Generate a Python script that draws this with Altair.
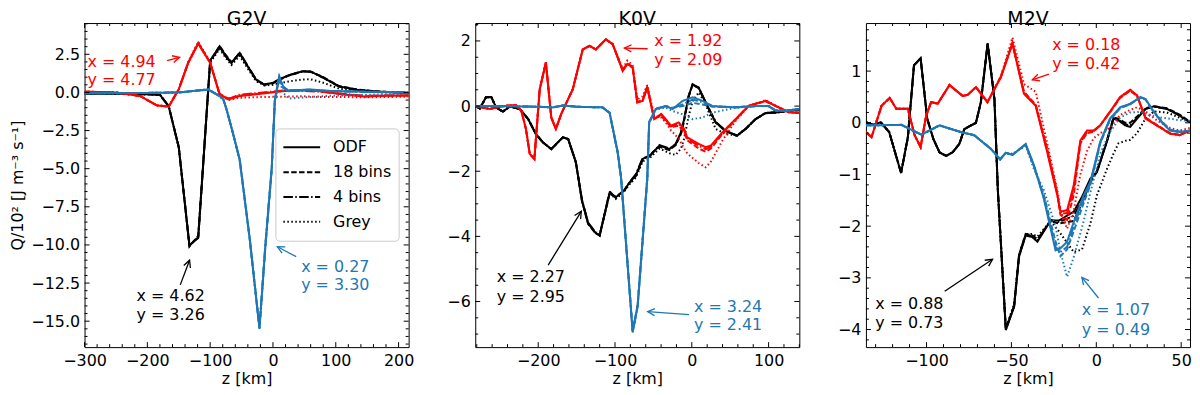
import math
import altair as alt
import pandas as pd
import numpy as np

FONT = "DejaVu Sans"
METHODS = ["ODF", "18 bins", "4 bins", "Grey"]
SERIES = ["black", "red", "blue"]
COLORS = ["#000000", "#ff0000", "#1f77b4"]
DASHES = [[1, 0], [5.5, 2.4], [9.6, 2.4, 1.5, 2.4], [1.5, 2.5]]
W = 326
H = 326

# ---------------- G2V ----------------
G2V_BLACK_Z = [-300, -250, -200, -180, -166, -150, -133, -119, -100, -85, -75, -66, -53, -40, -27, -14, 0, 10, 25, 47, 60, 79, 105, 137, 170, 205, 216]
G2V_BLACK_ODF = [-0.08, -0.1, -0.12, -0.15, -0.91, -3.6, -10.05, -9.5, 2.1, 3.02, 2.4, 1.94, 2.59, 1.7, 0.85, 0.52, 0.63, 0.85, 1.13, 1.39, 1.37, 1.0, 0.4, 0.15, 0.05, 0.0, -0.05]
G2V_BLACK_B18 = [-0.08, -0.1, -0.12, -0.16, -0.93, -3.55, -10.1, -9.4, 2.0, 3.05, 2.45, 1.98, 2.55, 1.68, 0.82, 0.5, 0.6, 0.83, 1.1, 1.37, 1.36, 1.02, 0.42, 0.17, 0.06, 0.0, -0.05]
G2V_BLACK_B4 = [-0.08, -0.1, -0.12, -0.15, -0.9, -3.6, -10.0, -9.55, 2.05, 2.95, 2.35, 1.9, 2.62, 1.72, 0.86, 0.5, 0.62, 0.86, 1.12, 1.38, 1.36, 0.98, 0.38, 0.14, 0.05, 0.0, -0.05]
G2V_BLACK_GREY = [-0.08, -0.1, -0.12, -0.15, -0.9, -3.58, -10.0, -9.5, 1.95, 2.85, 2.25, 1.8, 2.4, 1.55, 0.75, 0.45, 0.5, 0.6, 0.72, 0.85, 0.86, 0.65, 0.25, 0.1, 0.02, -0.02, -0.05]

G2V_RED_Z = [-300, -250, -211, -185, -166, -150, -135, -119, -100, -85, -71, -53, -16, 15, 47, 73, 110, 147, 180, 216]
G2V_RED_ODF = [0.05, 0.0, -0.24, -0.85, -0.93, 0.2, 1.94, 3.2, 1.94, -0.13, -0.46, -0.24, -0.07, 0.08, 0.15, 0.09, -0.13, -0.28, -0.2, -0.2]
G2V_RED_B18 = [0.05, 0.0, -0.24, -0.85, -0.93, 0.2, 1.95, 3.25, 1.97, -0.1, -0.4, -0.2, -0.05, 0.1, 0.15, 0.1, -0.1, -0.25, -0.22, -0.2]
G2V_RED_B4 = [0.05, 0.0, -0.24, -0.86, -0.92, 0.21, 1.93, 3.22, 1.96, -0.1, -0.42, -0.15, 0.0, 0.12, 0.1, 0.05, -0.08, -0.22, -0.2, -0.2]
G2V_RED_GREY = [0.05, 0.0, -0.24, -0.85, -0.93, 0.22, 2.0, 3.32, 2.0, -0.15, -0.5, -0.35, -0.3, -0.28, -0.25, -0.3, -0.3, -0.32, -0.3, -0.28]

G2V_BLUE_Z = [-300, -250, -200, -150, -103, -85, -79, -74, -64, -53, -37, -21.5, -12, -2, 3, 10, 16, 25, 58, 90, 150, 216]
G2V_BLUE_ODF = [-0.05, -0.05, -0.03, 0.0, 0.2, -0.24, -0.46, -1.1, -2.63, -4.4, -9.6, -15.5, -10.0, -5.0, -0.5, 1.07, 0.4, 0.1, 0.2, 0.1, 0.05, 0.0]
G2V_BLUE_B18 = [-0.05, -0.05, -0.03, 0.0, 0.18, -0.22, -0.45, -1.12, -2.6, -4.45, -9.65, -15.45, -10.1, -5.1, -0.45, 1.0, 0.35, 0.12, 0.18, 0.1, 0.04, 0.0]
G2V_BLUE_B4 = [-0.05, -0.05, -0.03, 0.0, 0.19, -0.25, -0.47, -1.08, -2.65, -4.38, -9.55, -15.4, -9.9, -4.9, -0.55, 0.95, 0.3, 0.08, 0.15, 0.08, 0.03, -0.02]
G2V_BLUE_GREY = [-0.05, -0.05, -0.03, 0.0, 0.2, -0.24, -0.46, -1.1, -2.63, -4.4, -9.6, -15.45, -10.0, -5.0, -0.6, 0.9, 0.0, -0.4, -0.3, -0.22, -0.15, -0.08]

G2V_TEXT = ["x = 4.94", "y = 4.77", "x = 4.62", "y = 3.26", "x = 0.27", "y = 3.30"]
G2V_TEXT_Z = [-295.3, -295.3, -217.2, -217.2, 44.9, 44.9]
G2V_TEXT_Q = [2.0, 0.83, -13.38, -14.57, -11.43, -12.62]
G2V_TEXT_S = ["red", "red", "black", "black", "blue", "blue"]
G2V_ARROW_S = ["red", "black", "blue"]
G2V_ARROW_TAIL_Z = [-168.7, -147.6, 37.0]
G2V_ARROW_TAIL_Q = [2.08, -12.62, -10.77]
G2V_ARROW_HEAD_Z = [-148.6, -132.8, 7.0]
G2V_ARROW_HEAD_Q = [2.3, -11.0, -10.12]

# ---------------- K0V ----------------
K0V_BLACK_Z = [-282, -276, -268, -261, -255, -246, -237, -224, -213, -203, -194, -183, -168, -161, -151, -143, -135, -125, -120, -107, -99, -88, -81, -73, -64, -55, -42, -29, -21, -14, -10, -4, 1, 9, 18, 31, 44, 59, 70, 83, 96, 113, 126, 140]
K0V_BLACK_ODF = [0, -0.07, 0.27, 0.28, -0.04, -0.17, -0.01, -0.09, -0.4, -0.86, -1.11, -1.32, -0.96, -1.01, -1.72, -2.9, -3.6, -3.9, -3.97, -2.65, -2.8, -2.59, -2.34, -2.13, -1.62, -1.52, -1.21, -1.32, -1.16, -0.8, -0.4, 0.32, 0.67, 0.57, 0.11, -0.5, -0.76, -0.91, -0.7, -0.4, -0.21, -0.19, -0.14, -0.1]
K0V_BLACK_B18 = [0, -0.07, 0.27, 0.28, -0.04, -0.17, -0.01, -0.09, -0.4, -0.86, -1.11, -1.32, -0.96, -1.01, -1.72, -2.92, -3.62, -3.92, -3.95, -2.7, -2.78, -2.6, -2.36, -2.15, -1.65, -1.5, -1.25, -1.35, -1.2, -0.85, -0.45, 0.3, 0.65, 0.55, 0.1, -0.5, -0.77, -0.9, -0.7, -0.4, -0.22, -0.18, -0.15, -0.1]
K0V_BLACK_B4 = [0, -0.07, 0.27, 0.28, -0.04, -0.17, -0.01, -0.09, -0.4, -0.86, -1.11, -1.32, -0.96, -1.01, -1.72, -2.88, -3.58, -3.88, -3.98, -2.62, -2.82, -2.58, -2.33, -2.1, -1.6, -1.55, -1.2, -1.3, -1.18, -0.82, -0.42, 0.31, 0.66, 0.56, 0.12, -0.48, -0.75, -0.92, -0.7, -0.4, -0.21, -0.19, -0.14, -0.1]
K0V_BLACK_GREY = [0, -0.07, 0.27, 0.28, -0.04, -0.17, -0.01, -0.09, -0.4, -0.86, -1.11, -1.32, -0.96, -1.01, -1.72, -2.9, -3.6, -3.9, -3.97, -2.68, -2.85, -2.62, -2.4, -2.2, -1.7, -1.6, -1.3, -1.45, -1.5, -1.3, -1.0, -0.3, 0.15, 0.42, 0.05, -0.7, -0.86, -0.9, -0.7, -0.4, -0.21, -0.19, -0.14, -0.1]

K0V_RED_Z = [-282, -263, -246, -229, -222, -216, -211, -205, -198, -190, -183, -177, -170, -155, -142, -133, -125, -112, -103, -90, -84, -77, -71, -64, -58, -49, -40, -34, -27, -17, -10, -6, 9, 18, 25, 40, 57, 74, 96, 109, 126, 140]
K0V_RED_ODF = [0, -0.09, 0, 0.03, -0.14, -0.7, -1.47, -1.62, 0.52, 1.34, -0.35, -0.7, -0.24, 0.52, 1.74, 1.85, 1.74, 2.05, 1.9, 1.08, 1.29, 1.18, 0.11, 0.16, 0.57, -0.4, -0.24, -0.4, -0.6, -0.5, -0.7, -0.96, -1.16, -1.26, -1.21, -0.8, -0.4, 0.01, 0.16, 0.01, -0.19, -0.21]
K0V_RED_B18 = [0, -0.09, 0, 0.03, -0.14, -0.7, -1.47, -1.62, 0.52, 1.34, -0.35, -0.7, -0.24, 0.52, 1.74, 1.85, 1.74, 2.05, 1.9, 1.1, 1.32, 1.2, 0.13, 0.18, 0.6, -0.38, -0.3, -0.45, -0.65, -0.6, -0.8, -1.05, -1.3, -1.4, -1.3, -0.85, -0.42, 0.0, 0.15, 0.0, -0.18, -0.2]
K0V_RED_B4 = [0, -0.09, 0, 0.03, -0.14, -0.7, -1.47, -1.62, 0.52, 1.34, -0.35, -0.7, -0.24, 0.52, 1.74, 1.85, 1.74, 2.05, 1.9, 1.09, 1.3, 1.19, 0.12, 0.17, 0.58, -0.4, -0.26, -0.42, -0.62, -0.55, -0.75, -1.0, -1.22, -1.32, -1.25, -0.82, -0.41, 0.01, 0.16, 0.01, -0.19, -0.21]
K0V_RED_GREY = [0, -0.09, 0, 0.03, -0.14, -0.7, -1.47, -1.62, 0.52, 1.34, -0.35, -0.7, -0.24, 0.52, 1.74, 1.85, 1.74, 2.05, 1.9, 1.15, 1.4, 1.25, 0.2, 0.3, 0.65, -0.3, -0.35, -0.5, -0.75, -1.0, -1.3, -1.45, -1.75, -1.88, -1.7, -1.05, -0.45, 0.0, 0.18, 0.02, -0.18, -0.2]

K0V_BLUE_Z = [-282, -250, -200, -181, -168, -150, -116, -107, -96.5, -92, -77, -70.5, -58, -55.5, -47, -34, -25, -12, 1, 14, 27, 57, 83, 100, 109, 126, 140]
K0V_BLUE_ODF = [0, 0, -0.02, -0.04, 0.02, -0.02, -0.04, -0.21, -1.42, -2.23, -6.95, -6.15, -2.23, -0.5, -0.09, 0, -0.09, 0.16, 0.27, 0.16, 0, -0.04, 0, 0, -0.14, -0.14, -0.09]
K0V_BLUE_B18 = [0, 0, -0.02, -0.04, 0.02, -0.02, -0.04, -0.2, -1.4, -2.2, -6.9, -6.1, -2.2, -0.48, -0.08, 0, -0.05, 0.0, 0.1, 0.05, -0.02, -0.03, 0, 0, -0.13, -0.13, -0.09]
K0V_BLUE_B4 = [0, 0, -0.02, -0.04, 0.02, -0.02, -0.04, -0.22, -1.44, -2.25, -6.92, -6.12, -2.25, -0.52, -0.1, 0, -0.07, 0.05, 0.2, 0.12, 0.0, -0.04, 0, 0, -0.14, -0.14, -0.09]
K0V_BLUE_GREY = [0, 0, -0.02, -0.04, 0.02, -0.02, -0.04, -0.21, -1.42, -2.23, -6.93, -6.12, -2.23, -0.5, -0.1, -0.05, -0.15, -0.25, -0.4, -0.35, -0.2, -0.05, 0, 0, -0.12, -0.12, -0.08]

K0V_TEXT = ["x = 1.92", "y = 2.09", "x = 2.27", "y = 2.95", "x = 3.24", "y = 2.41"]
K0V_TEXT_Z = [-49.0, -49.0, -254.0, -254.0, 2.85, 2.85]
K0V_TEXT_Q = [2.01, 1.40, -5.24, -5.85, -6.16, -6.72]
K0V_TEXT_S = ["red", "red", "black", "black", "blue", "blue"]
K0V_ARROW_S = ["red", "black", "blue"]
K0V_ARROW_TAIL_Z = [-57.5, -187.0, -3.6]
K0V_ARROW_TAIL_Q = [1.76, -4.88, -6.40]
K0V_ARROW_HEAD_Z = [-87.8, -143.9, -57.5]
K0V_ARROW_HEAD_Q = [1.78, -3.23, -6.31]

# ---------------- M2V ----------------
M2V_BLACK_Z = [-135.7, -131, -127, -122, -115, -111, -107.4, -103.5, -99.6, -96, -92.4, -88.5, -84.6, -80.7, -77.7, -70.9, -68, -64, -60, -58, -53.3, -48.4, -45.5, -41.6, -37.7, -34.7, -26.9, -22, -13.3, -8.4, -3.5, 0.4, 6.2, 10.1, 13, 17, 20, 24, 29, 34, 41.6, 49, 55.2]
M2V_BLACK_ODF = [0.01, -0.04, 0.01, -0.18, -0.97, -0.28, 1.11, 1.25, 0.08, -0.31, -0.57, -0.64, -0.57, -0.41, -0.12, 0, 0.4, 1.54, 0.46, -1.3, -4.01, -3.56, -2.59, -2.18, -2.21, -2.3, -1.89, -1.89, -1.72, -1.43, -1.08, -0.95, -0.37, 0.08, 0.05, -0.05, -0.08, 0.08, 0.27, 0.32, 0.27, 0.14, 0.01]
M2V_BLACK_B18 = [0.01, -0.04, 0.01, -0.18, -0.97, -0.28, 1.11, 1.25, 0.08, -0.31, -0.57, -0.64, -0.57, -0.41, -0.12, 0, 0.4, 1.52, 0.45, -1.3, -3.98, -3.54, -2.55, -2.15, -2.18, -2.25, -1.9, -1.95, -1.9, -1.55, -1.15, -0.95, -0.35, 0.1, 0.08, 0.0, 0.0, 0.12, 0.28, 0.32, 0.28, 0.16, 0.02]
M2V_BLACK_B4 = [0.01, -0.04, 0.01, -0.18, -0.97, -0.28, 1.11, 1.25, 0.08, -0.31, -0.57, -0.64, -0.57, -0.41, -0.12, 0, 0.4, 1.53, 0.46, -1.3, -4.0, -3.55, -2.57, -2.17, -2.2, -2.28, -1.88, -1.92, -1.8, -1.5, -1.1, -0.93, -0.36, 0.09, 0.06, -0.03, -0.05, 0.1, 0.27, 0.31, 0.27, 0.15, 0.01]
M2V_BLACK_GREY = [0.01, -0.04, 0.01, -0.18, -0.97, -0.28, 1.11, 1.25, 0.08, -0.31, -0.57, -0.64, -0.57, -0.41, -0.12, 0, 0.4, 1.52, 0.45, -1.3, -3.98, -3.5, -2.55, -2.15, -2.15, -2.2, -1.9, -2.1, -2.5, -2.45, -1.95, -1.4, -0.9, -0.6, -0.4, -0.35, -0.33, -0.2, 0.08, 0.22, 0.2, 0.1, 0.02]

M2V_RED_Z = [-135.7, -132.4, -126.5, -121.7, -117.8, -111, -107, -103.5, -100.2, -97.3, -93.4, -86.5, -78.7, -75.8, -70.9, -64.1, -56.2, -49.4, -42.6, -35.7, -28.9, -23, -21.1, -17.2, -13.3, -9.4, -5.5, -1.6, 2.3, 8, 14, 20, 24, 29, 35.6, 43.4, 49, 55.2]
M2V_RED_ODF = [-0.18, -0.28, 0.33, 0.48, 0.27, 0.27, -0.24, -0.47, 0.14, 0.4, 0.37, 0.73, 0.52, 0.54, 0.69, 0.4, 0.88, 1.53, 0.56, 0.33, -0.57, -1.4, -1.72, -1.69, -1.21, -0.34, -0.15, -0.15, -0.05, 0.21, 0.5, 0.64, 0.53, 0.08, -0.05, -0.21, -0.24, -0.15]
M2V_RED_B18 = [-0.18, -0.28, 0.33, 0.48, 0.27, 0.27, -0.24, -0.47, 0.14, 0.4, 0.37, 0.73, 0.52, 0.54, 0.69, 0.4, 0.9, 1.55, 0.6, 0.35, -0.5, -1.35, -1.78, -1.88, -1.4, -0.4, -0.2, -0.17, -0.05, 0.2, 0.48, 0.62, 0.52, 0.1, -0.04, -0.2, -0.23, -0.15]
M2V_RED_B4 = [-0.18, -0.28, 0.33, 0.48, 0.27, 0.27, -0.24, -0.47, 0.14, 0.4, 0.37, 0.73, 0.52, 0.54, 0.69, 0.4, 0.89, 1.54, 0.58, 0.34, -0.55, -1.38, -1.75, -1.75, -1.3, -0.38, -0.18, -0.16, -0.05, 0.21, 0.49, 0.63, 0.53, 0.09, -0.05, -0.21, -0.24, -0.15]
M2V_RED_GREY = [-0.18, -0.28, 0.33, 0.48, 0.27, 0.27, -0.24, -0.47, 0.14, 0.4, 0.37, 0.73, 0.52, 0.54, 0.69, 0.4, 0.9, 1.65, 0.75, 0.6, -0.4, -1.3, -1.7, -2.05, -1.7, -1.0, -0.55, -0.3, -0.2, -0.1, 0.15, 0.25, 0.3, 0.22, 0.05, -0.1, -0.15, -0.1]

M2V_BLUE_Z = [-135.7, -114.8, -103, -92.4, -79.7, -71.9, -62.2, -56.7, -53.3, -49.4, -41.6, -36.7, -30.9, -24, -21.1, -17.2, -13.3, -7.4, -3.5, 2.3, 8, 14, 20, 26, 29, 32.6, 38.5, 43.4, 49, 55.2]
M2V_BLUE_ODF = [-0.05, -0.04, -0.23, -0.05, -0.18, -0.24, -0.5, -0.71, -0.58, -0.62, -0.41, -0.82, -1.47, -2.47, -2.43, -2.3, -1.92, -1.4, -1.14, -0.37, 0.08, 0.3, 0.37, 0.5, 0.46, 0.27, 0.01, -0.15, -0.18, -0.15]
M2V_BLUE_B18 = [-0.05, -0.04, -0.23, -0.05, -0.18, -0.24, -0.5, -0.71, -0.58, -0.62, -0.42, -0.85, -1.4, -2.3, -2.58, -2.45, -2.1, -1.55, -1.2, -0.4, 0.05, 0.28, 0.36, 0.48, 0.45, 0.28, 0.03, -0.13, -0.17, -0.15]
M2V_BLUE_B4 = [-0.05, -0.04, -0.23, -0.05, -0.18, -0.24, -0.5, -0.71, -0.58, -0.62, -0.42, -0.84, -1.44, -2.4, -2.5, -2.4, -2.0, -1.48, -1.17, -0.38, 0.06, 0.29, 0.36, 0.49, 0.46, 0.27, 0.02, -0.14, -0.18, -0.15]
M2V_BLUE_GREY = [-0.05, -0.04, -0.23, -0.05, -0.18, -0.24, -0.5, -0.7, -0.58, -0.6, -0.45, -0.9, -1.3, -2.0, -2.5, -2.98, -2.6, -1.9, -1.35, -0.6, -0.18, 0.1, 0.2, 0.21, 0.18, 0.14, 0.1, 0.08, 0.05, 0.04]

M2V_TEXT = ["x = 0.18", "y = 0.42", "x = 0.88", "y = 0.73", "x = 1.07", "y = 0.49"]
M2V_TEXT_Z = [-26.0, -26.0, -130.2, -130.2, -8.5, -8.5]
M2V_TEXT_Q = [1.50, 1.14, -3.51, -3.88, -3.63, -4.0]
M2V_TEXT_S = ["red", "red", "black", "black", "blue", "blue"]
M2V_ARROW_S = ["red", "black", "blue"]
M2V_ARROW_TAIL_Z = [-27.9, -89.3, 1.3]
M2V_ARROW_TAIL_Q = [0.94, -3.26, -3.39]
M2V_ARROW_HEAD_Z = [-37.7, -61.1, -8.5]
M2V_ARROW_HEAD_Q = [0.83, -2.64, -2.99]

ARROW_SHAPE = "M -1.5 -0.75 L 0 0 L -1.5 0.75"


def curves_df(curves):
    rows = []
    for series, z, ys in curves:
        for m, y in zip(METHODS, ys):
            assert len(z) == len(y), (series, m, len(z), len(y))
            for zi, yi in zip(z, y):
                rows.append({"z": zi, "Q": yi, "series": series, "method": m})
    return pd.DataFrame(rows)


def panel(title, curves, xdom, ydom, xmaj, xminor, ymaj, yminor, yfmt,
          texts, arrows, ytitle=None, legend=None):
    df = curves_df(curves)
    xsc = alt.Scale(domain=xdom, nice=False, zero=False)
    ysc = alt.Scale(domain=ydom, nice=False, zero=False)
    xax = alt.Axis(values=xmaj, title="z [km]", format="d", labelFlush=False)
    ykw = dict(values=ymaj, format=yfmt)
    ykw["title"] = ytitle if ytitle is not None else None
    yax = alt.Axis(**ykw)
    X = alt.X("z:Q", scale=xsc, axis=xax)
    Y = alt.Y("Q:Q", scale=ysc, axis=yax)
    col = alt.Color("series:N", scale=alt.Scale(domain=SERIES, range=COLORS), legend=None)
    dash_kw = dict(scale=alt.Scale(domain=METHODS, range=DASHES))
    dash_kw["legend"] = legend if legend is not None else None
    lines = alt.Chart(df).mark_line(strokeWidth=2, clip=True).encode(
        x=X, y=Y, color=col, strokeDash=alt.StrokeDash("method:N", **dash_kw)
    )

    # annotation text
    tz, tq, tt, ts = texts
    tdf = pd.DataFrame({"z": tz, "Q": tq, "text": tt, "series": ts})
    txt = alt.Chart(tdf).mark_text(align="left", baseline="middle", font=FONT, fontSize=16).encode(
        x=X, y=Y, text="text:N", color=col
    )

    # arrows
    a_s, a_tz, a_tq, a_hz, a_hq = arrows
    sx = W / (xdom[1] - xdom[0])
    sy = H / (ydom[1] - ydom[0])
    angs = []
    for z0, q0, z1, q1 in zip(a_tz, a_tq, a_hz, a_hq):
        dx = (z1 - z0) * sx
        dy = -(q1 - q0) * sy
        angs.append(math.degrees(math.atan2(dy, dx)) % 360)
    adf = pd.DataFrame({"z": a_tz, "Q": a_tq, "z2": a_hz, "Q2": a_hq, "series": a_s})
    hdf = pd.DataFrame({"z": a_hz, "Q": a_hq, "series": a_s, "ang": angs})
    shafts = alt.Chart(adf).mark_rule(strokeWidth=1.3).encode(
        x=X, y=Y, x2="z2:Q", y2="Q2:Q", color=col
    )
    heads = alt.Chart(hdf).mark_point(shape=ARROW_SHAPE, filled=False, size=90, strokeWidth=1.3, opacity=1).encode(
        x=X, y=Y, color=col, angle=alt.Angle("ang:Q", scale=None)
    )

    # inward ticks (major + minor) on all four sides
    xmaj_df = pd.DataFrame({"z": xmaj})
    xmin_df = pd.DataFrame({"z": xminor})
    ymaj_df = pd.DataFrame({"Q": ymaj})
    ymin_df = pd.DataFrame({"Q": yminor})
    tick_layers = []
    for d, L in ((xmaj_df, 5), (xmin_df, 3)):
        tick_layers.append(alt.Chart(d).mark_rule(color="black", strokeWidth=1).encode(
            x=X, y=alt.value(0), y2=alt.value(L)))
        tick_layers.append(alt.Chart(d).mark_rule(color="black", strokeWidth=1).encode(
            x=X, y=alt.value(H), y2=alt.value(H - L)))
    for d, L in ((ymaj_df, 5), (ymin_df, 3)):
        tick_layers.append(alt.Chart(d).mark_rule(color="black", strokeWidth=1).encode(
            y=Y, x=alt.value(0), x2=alt.value(L)))
        tick_layers.append(alt.Chart(d).mark_rule(color="black", strokeWidth=1).encode(
            y=Y, x=alt.value(W), x2=alt.value(W - L)))

    return alt.layer(lines, shafts, heads, txt, *tick_layers).properties(
        width=W, height=H,
        title=alt.TitleParams(text=title, font=FONT, fontSize=19, fontWeight="normal", color="black", offset=-6),
    )


def minor(lo, hi, step, majors):
    vals = np.round(np.arange(lo, hi + step / 2, step), 4)
    return [float(v) for v in vals if not any(abs(v - m) < 1e-6 for m in majors)]


# G2V panel
g_xmaj = [-300, -200, -100, 0, 100, 200]
g_ymaj = [2.5, 0.0, -2.5, -5.0, -7.5, -10.0, -12.5, -15.0]
leg = alt.Legend(
    title=None, orient="none", legendX=192, legendY=106,
    symbolType="stroke", symbolSize=1369, symbolStrokeWidth=2, symbolStrokeColor="black",
    labelFont=FONT, labelFontSize=16, labelColor="black", labelOffset=12,
    clipHeight=24, rowPadding=1, padding=7,
    fillColor="white", strokeColor="#cccccc", cornerRadius=4,
)
p1 = panel(
    "G2V",
    [("black", G2V_BLACK_Z, [G2V_BLACK_ODF, G2V_BLACK_B18, G2V_BLACK_B4, G2V_BLACK_GREY]),
     ("red", G2V_RED_Z, [G2V_RED_ODF, G2V_RED_B18, G2V_RED_B4, G2V_RED_GREY]),
     ("blue", G2V_BLUE_Z, [G2V_BLUE_ODF, G2V_BLUE_B18, G2V_BLUE_B4, G2V_BLUE_GREY])],
    [-300, 216], [-16.7, 4.55],
    g_xmaj, minor(-300, 200, 20, g_xmaj), g_ymaj, minor(-16.5, 4.5, 0.5, g_ymaj), ".1f",
    (G2V_TEXT_Z, G2V_TEXT_Q, G2V_TEXT, G2V_TEXT_S),
    (G2V_ARROW_S, G2V_ARROW_TAIL_Z, G2V_ARROW_TAIL_Q, G2V_ARROW_HEAD_Z, G2V_ARROW_HEAD_Q),
    ytitle="Q/10² [J m⁻³ s⁻¹]", legend=leg,
)

k_xmaj = [-200, -100, 0, 100]
k_ymaj = [2, 0, -2, -4, -6]
p2 = panel(
    "K0V",
    [("black", K0V_BLACK_Z, [K0V_BLACK_ODF, K0V_BLACK_B18, K0V_BLACK_B4, K0V_BLACK_GREY]),
     ("red", K0V_RED_Z, [K0V_RED_ODF, K0V_RED_B18, K0V_RED_B4, K0V_RED_GREY]),
     ("blue", K0V_BLUE_Z, [K0V_BLUE_ODF, K0V_BLUE_B18, K0V_BLUE_B4, K0V_BLUE_GREY])],
    [-282, 140], [-7.4, 2.55],
    k_xmaj, minor(-280, 140, 20, k_xmaj), k_ymaj, minor(-7.0, 2.5, 0.5, k_ymaj), "d",
    (K0V_TEXT_Z, K0V_TEXT_Q, K0V_TEXT, K0V_TEXT_S),
    (K0V_ARROW_S, K0V_ARROW_TAIL_Z, K0V_ARROW_TAIL_Q, K0V_ARROW_HEAD_Z, K0V_ARROW_HEAD_Q),
)

m_xmaj = [-100, -50, 0, 50]
m_ymaj = [1, 0, -1, -2, -3, -4]
p3 = panel(
    "M2V",
    [("black", M2V_BLACK_Z, [M2V_BLACK_ODF, M2V_BLACK_B18, M2V_BLACK_B4, M2V_BLACK_GREY]),
     ("red", M2V_RED_Z, [M2V_RED_ODF, M2V_RED_B18, M2V_RED_B4, M2V_RED_GREY]),
     ("blue", M2V_BLUE_Z, [M2V_BLUE_ODF, M2V_BLUE_B18, M2V_BLUE_B4, M2V_BLUE_GREY])],
    [-135.7, 55.2], [-4.34, 1.93],
    m_xmaj, minor(-130, 50, 10, m_xmaj), m_ymaj, minor(-4.2, 1.8, 0.2, m_ymaj), "d",
    (M2V_TEXT_Z, M2V_TEXT_Q, M2V_TEXT, M2V_TEXT_S),
    (M2V_ARROW_S, M2V_ARROW_TAIL_Z, M2V_ARROW_TAIL_Q, M2V_ARROW_HEAD_Z, M2V_ARROW_HEAD_Q),
)

chart = alt.hconcat(p1, p2, p3, spacing=67, bounds="flush").resolve_scale(
    strokeDash="independent"
).resolve_legend(strokeDash="independent").properties(
    padding={"left": 1, "top": 0, "right": 0, "bottom": 0}
).configure_axis(
    labelFont=FONT, labelFontSize=16, titleFont=FONT, titleFontSize=16,
    titleFontWeight="normal", labelColor="black", titleColor="black",
    ticks=False, tickSize=0, domain=False, grid=False, labelPadding=5,
).configure_axisY(titlePadding=5).configure_axisX(titlePadding=3).configure_view(
    stroke="black", strokeWidth=1
)

chart.save("out.html", embed_options={"renderer": "svg", "actions": False})
